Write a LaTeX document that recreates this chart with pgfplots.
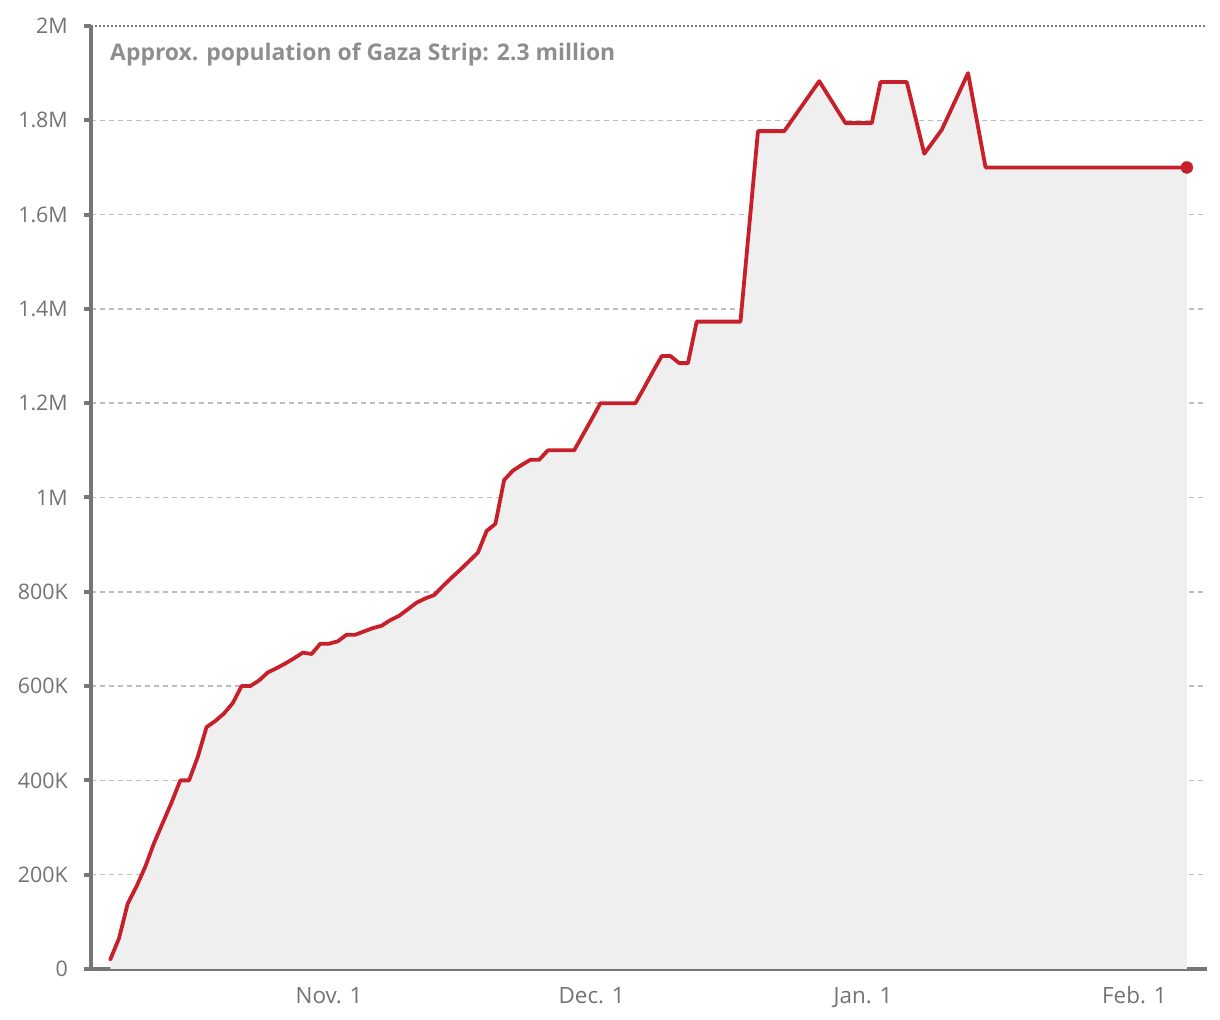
\documentclass[border=0pt]{standalone}
\usepackage{pgfplots}
\pgfplotsset{compat=1.18}
\usepackage{fontspec}
\setmainfont{Open Sans}
\definecolor{axgray}{HTML}{767676}
\definecolor{lblgray}{HTML}{737373}
\definecolor{anngray}{HTML}{8E8E8E}
\definecolor{gridc}{HTML}{B9C0C5}
\definecolor{fillc}{HTML}{EFEFEF}
\definecolor{redc}{HTML}{C8202A}
\pgfplotstableread{
d v
6 20
7 65
8 139
9 175
10 217
11 267
12 310
13 353
14 400
15 400
16 450
17 513
18 526
19 542
20 564
21 600
22 600
23 612
24 629
25 638
26 648
27 659
28 671
29 668
30 690
31 690
32 695
33 709
34 709
35 716
36 723
37 728
38 740
39 749
40 763
41 777
42 786
43 793
44 812
45 830
46 847
47 865
48 883
49 929
50 944
51 1037
52 1057
53 1069
54 1080
55 1080
56 1100
57 1100
58 1100
59 1100
60 1133
61 1166
62 1200
63 1200
64 1200
65 1200
66 1200
67 1233
68 1267
69 1300
70 1300
71 1285
72 1285
73 1373
74 1373
75 1373
76 1373
77 1373
78 1373
80 1777
81 1777
82 1777
83 1777
87 1883
90 1794
91 1794
92 1794
93 1794
94 1881
95 1881
96 1881
97 1881
99 1729
101 1780
104 1900
106 1700
110 1700
120 1700
129 1700
}\gazadata
\begin{document}
\begin{tikzpicture}[x=1bp,y=1bp]
\useasboundingbox (0,0) rectangle (1220,1020);
\begin{axis}[
  at={(91bp,51bp)}, anchor=south west,
  scale only axis, width=1116bp, height=943bp,
  xmin=3.8, xmax=131.3, ymin=0, ymax=2000,
  axis lines*=left,
  axis line style={axgray, line width=4bp},
  xtick={31,61,92,123},
  xticklabels={Nov. 1, Dec. 1, Jan. 1, Feb. 1},
  ytick={0,200,400,600,800,1000,1200,1400,1600,1800},
  yticklabels={0,200K,400K,600K,800K,1M,1.2M,1.4M,1.6M,1.8M},
  extra y ticks={2000},
  extra y tick labels={2M},
  extra y tick style={grid style={axgray, line width=2.8bp, dash pattern=on 2bp off 2bp}},
  ymajorgrids,
  grid style={gridc, line width=1.5bp, dash pattern=on 5bp off 4bp},
  tick align=outside,
  major tick length=7bp,
  ytick style={axgray, line width=4bp},
  xtick style={draw=none},
  /pgf/number format/assume math mode=true,
  yticklabel style={font=\fontsize{21.5}{25}\selectfont, text=lblgray, anchor=east, inner sep=0pt, xshift=-16bp},
  xticklabel style={font=\fontsize{22.5}{26}\selectfont, text=lblgray, anchor=base, inner sep=0pt, yshift=-28bp},
]
\addplot[fill=fillc, draw=none] table[x=d,y=v]{\gazadata} \closedcycle;
\addplot[redc, line width=3.8bp, line join=round, line cap=round] table[x=d,y=v]{\gazadata};
\addplot[only marks, mark=*, mark size=6bp, redc] coordinates {(129,1700)};
\end{axis}
\node[anchor=base west, inner sep=0pt, text=anngray, font=\bfseries\fontsize{23}{26}\selectfont] at (110,959) {Approx. population of Gaza Strip: 2.3 million};
\end{tikzpicture}
\end{document}
